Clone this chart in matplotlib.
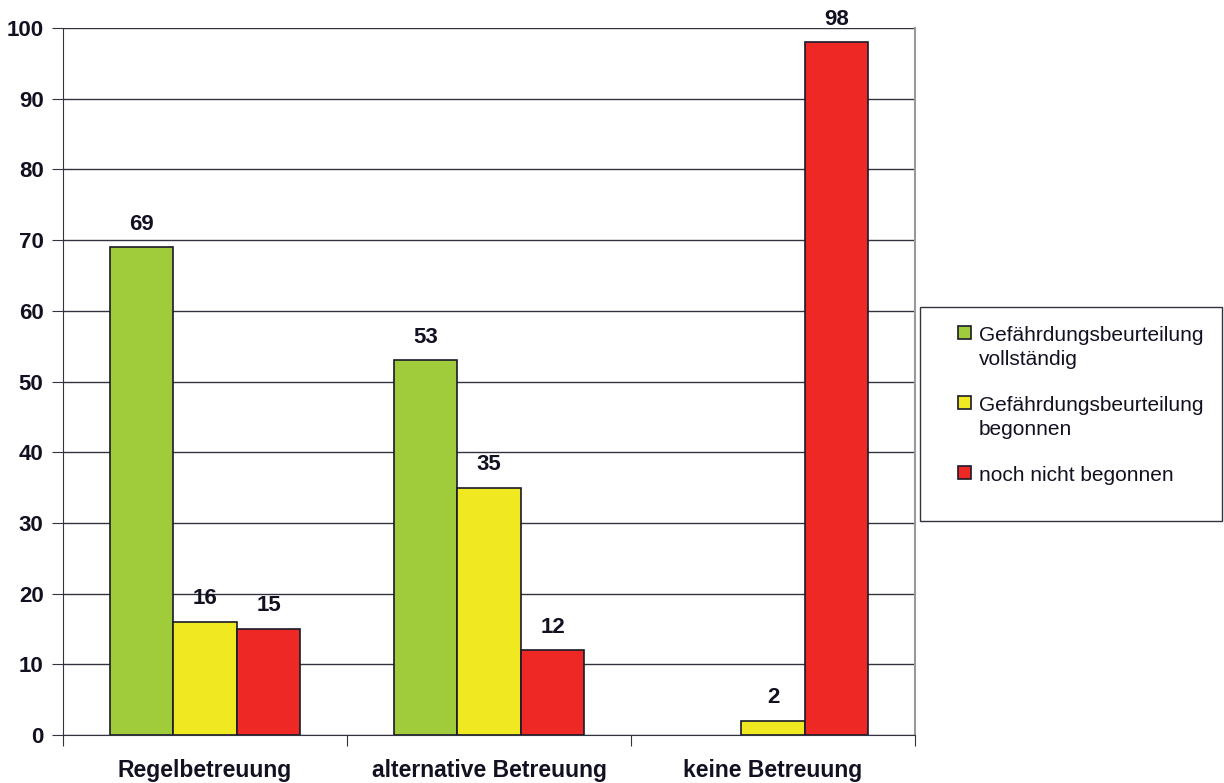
import matplotlib.pyplot as plt
import numpy as np
from matplotlib.patches import Rectangle

plt.rcParams['font.family'] = ['Liberation Sans', 'DejaVu Sans']

# Daten
kategorien = ['Regelbetreuung', 'alternative Betreuung', 'keine Betreuung']
vollstaendig = [69, 53, 0]
begonnen = [16, 35, 2]
nicht_begonnen = [15, 12, 98]
serien_namen = ['Gefährdungsbeurteilung\nvollständig',
                'Gefährdungsbeurteilung\nbegonnen',
                'noch nicht begonnen']
farben = ['#A0CB3B', '#F0E922', '#EE2825']
y_ticks = list(range(0, 101, 10))

W, H = 1224, 783
fig = plt.figure(figsize=(W / 100, H / 100), dpi=100)
ax = fig.add_axes([63 / W, 1 - 735 / H, (915 - 63) / W, (735 - 28) / H])

x = np.arange(len(kategorien))
breite = 0.224
serien = [vollstaendig, begonnen, nicht_begonnen]
for i, (werte, name, farbe) in enumerate(zip(serien, serien_namen, farben)):
    pos = x + (i - 1) * breite
    ax.bar(pos, werte, breite, color=farbe, edgecolor='#1a1a2a',
           linewidth=[1.2 if w > 0 else 0 for w in werte], label=name, zorder=3)
    for p, w in zip(pos, werte):
        if w > 0:
            ax.annotate(str(w), (p, w), xytext=(0, 12.6), textcoords='offset points',
                        ha='center', va='baseline', fontsize=16, fontweight='bold',
                        color='#111122')

ax.set_xlim(-0.5, 2.5)
ax.set_ylim(0, 100)
ax.set_yticks(y_ticks)
ax.set_yticklabels([str(t) for t in y_ticks], fontsize=16, fontweight='bold', color='#111122')
ax.set_xticks([-0.5, 0.5, 1.5, 2.5])
ax.set_xticklabels([])
ax.set_xticks(x, minor=True)
ax.set_xticklabels(kategorien, minor=True, fontsize=16.5, fontweight='bold', color='#111122')
ax.tick_params(axis='x', which='minor', length=0, pad=17.5)
ax.tick_params(axis='x', which='major', length=8, direction='out', color='#333340')
ax.tick_params(axis='y', length=8, direction='out', color='#333340', pad=6)

ax.grid(axis='y', color='#333340', linewidth=1, zorder=0)
ax.spines['top'].set_visible(False)
ax.spines['left'].set_color('#333340')
ax.spines['bottom'].set_color('#333340')
ax.spines['right'].set_color('#999999')
ax.spines['right'].set_linewidth(1.5)

# Legende mit eigenem Rahmen
fig.patches.append(Rectangle((920 / W, 1 - 521 / H), (1222 - 920) / W, (521 - 307) / H,
                             transform=fig.transFigure, fill=False,
                             edgecolor='#333340', linewidth=1))
eintrag_y = [332, 402, 472]
for name, farbe, yc in zip(serien_namen, farben, eintrag_y):
    fig.patches.append(Rectangle((958 / W, 1 - (yc + 6.5) / H), 13 / W, 13 / H,
                                 transform=fig.transFigure, facecolor=farbe,
                                 edgecolor='#1a1a2a', linewidth=1.2))
    for k, zeile in enumerate(name.split('\n')):
        fig.text(979 / W, 1 - (yc + 9 + k * 24) / H, zeile, fontsize=15,
                 color='#111122', ha='left', va='baseline')

fig.savefig('out.png', dpi=100)
